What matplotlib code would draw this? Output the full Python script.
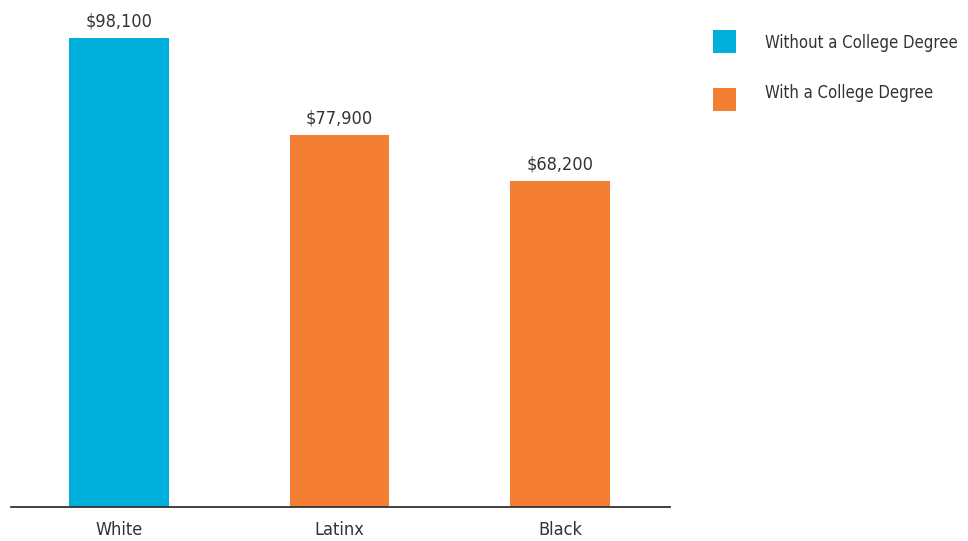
import matplotlib.pyplot as plt

# data
groups = ["White", "Latinx", "Black"]
earnings = [98100, 77900, 68200]
bar_colors = ["#00afdb", "#f47f32", "#f47f32"]
legend_labels = ["Without a College Degree", "With a College Degree"]
legend_colors = ["#00afdb", "#f47f32"]

plt.rcParams['font.family'] = ['DejaVu Sans']
plt.rcParams['font.stretch'] = 'condensed'
txt_color = "#333333"

fig = plt.figure(figsize=(9.68, 5.41), dpi=100)
W, H = 968, 541
ax = fig.add_axes([11 / W, (H - 507) / H, (670 - 11) / W, (507 - 20) / H])

x = list(range(len(groups)))
bars = ax.bar(x, earnings, width=100 / 221, color=bar_colors)

for b, v in zip(bars, earnings):
    ax.text(b.get_x() + b.get_width() / 2, v + 1500, "${:,}".format(v),
            ha="center", va="bottom", fontsize=13, color=txt_color)

ax.set_xlim(-108 / 221, 551 / 221 + 0.004)
ax.set_ylim(0, 98100 * 487 / 469)
ax.set_xticks(x)
ax.set_xticklabels(groups, fontsize=13, color=txt_color)
ax.tick_params(axis="x", length=0, pad=10)
ax.set_yticks([])
for s in ["top", "right", "left"]:
    ax.spines[s].set_visible(False)
ax.spines["bottom"].set_color("#333333")
ax.spines["bottom"].set_linewidth(1.3)

# legend squares and labels placed in figure pixels
for i, (lab, c) in enumerate(zip(legend_labels, legend_colors)):
    yc = 41.5 + 58 * i
    fig.patches.append(plt.Rectangle((713 / W, 1 - (yc + 11.5) / H), 23 / W, 23 / H,
                                     transform=fig.transFigure, facecolor=c,
                                     edgecolor="none"))
    fig.text(765 / W, 1 - (yc + 1 - 8 * i) / H, lab, ha="left", va="center",
             fontsize=12, color=txt_color)

fig.savefig("out.png", dpi=100)
